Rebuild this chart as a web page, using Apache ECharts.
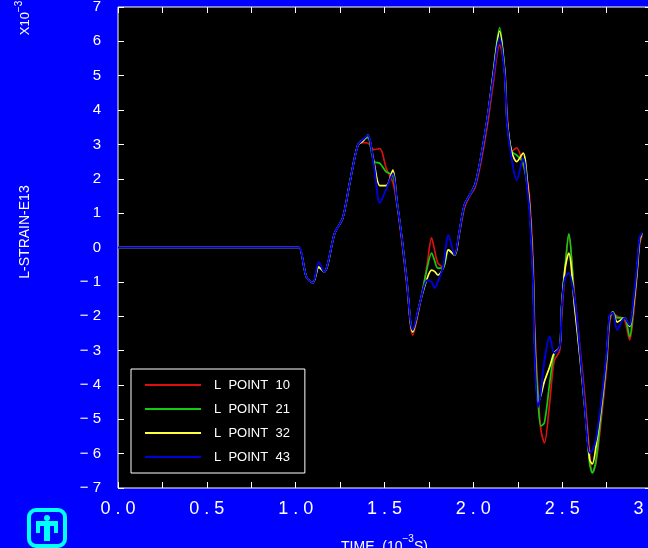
<!DOCTYPE html>
<html><head><meta charset="utf-8">
<script src="https://cdn.jsdelivr.net/npm/echarts@6/dist/echarts.min.js"></script>
<style>html,body{margin:0;padding:0;background:#0000ff;}#c{width:648px;height:548px;}</style>
</head><body><div id="c"></div>
<script>
// time in 10^-3 s
const times = [0, 1.0, 1.02, 1.06, 1.097, 1.13, 1.16, 1.22, 1.265, 1.305,
 1.35, 1.38, 1.406, 1.44, 1.474, 1.51, 1.547, 1.569, 1.597, 1.625,
 1.659, 1.70, 1.74, 1.765, 1.783, 1.80, 1.83, 1.86, 1.895, 1.92,
 1.95, 1.98, 2.01, 2.047, 2.08, 2.11, 2.148, 2.177, 2.19, 2.215,
 2.244, 2.28, 2.306, 2.317, 2.336, 2.345, 2.364, 2.38, 2.40, 2.43,
 2.455, 2.486, 2.497, 2.515, 2.537, 2.57, 2.6, 2.627, 2.655, 2.67,
 2.69, 2.72, 2.75, 2.767, 2.785, 2.81, 2.85, 2.88, 2.9, 2.92,
 2.936, 2.95];
// L-STRAIN-E13 (x 10^-3)
const point10 = [0, 0, 0, -0.85, -1.03, -0.57, -0.71, 0.42, 0.86, 1.9,
 2.98, 3.05, 3.04, 2.85, 2.88, 2.3, 1.9, 1.3, 0.2, -1.05,
 -2.55, -1.65, -0.5, 0.28, -0.1, -0.45, -0.57, -0.07, -0.22, 0.35,
 1.15, 1.5, 1.75, 2.6, 3.6, 4.7, 5.9, 5.2, 3.9, 2.8,
 2.9, 2.4, 1.9, 1.4, -0.3, -2.2, -4.2, -5.3, -5.69, -4.5,
 -3.3, -3.0, -2.0, -0.8, 0.36, -1.4, -2.9, -4.3, -6.0, -6.55,
 -6.3, -5.0, -3.5, -2.2, -1.91, -2.0, -2.1, -2.69, -2.0, -0.9,
 0.1, 0.35];
const point21 = [0, 0, 0, -0.85, -1.03, -0.57, -0.71, 0.42, 0.86, 1.9,
 2.98, 3.15, 3.2, 2.5, 2.45, 2.2, 2.1, 1.38, 0.3, -0.95,
 -2.46, -1.6, -0.6, -0.16, -0.4, -0.6, -0.6, -0.07, -0.22, 0.42,
 1.24, 1.53, 1.85, 2.75, 3.8, 5.0, 6.4, 5.1, 3.7, 2.8,
 2.69, 2.46, 1.7, 1.18, -0.74, -2.6, -4.4, -5.2, -5.1, -3.94,
 -3.1, -2.9, -1.73, -0.65, 0.4, -1.6, -3.1, -4.6, -6.3, -6.56,
 -6.2, -4.8, -3.3, -2.05, -1.88, -2.05, -2.05, -2.6, -1.8, -0.8,
 0.2, 0.42];
const point32 = [0, 0, 0, -0.85, -1.03, -0.57, -0.71, 0.42, 0.86, 1.9,
 2.98, 3.1, 3.27, 2.5, 1.8, 1.8, 2.25, 1.38, 0.3, -0.95,
 -2.46, -1.6, -0.9, -0.66, -0.7, -0.8, -0.6, -0.07, -0.22, 0.42,
 1.24, 1.53, 1.82, 2.75, 3.8, 4.96, 6.3, 5.07, 3.7, 2.8,
 2.5, 2.75, 1.8, 1.18, -0.74, -2.69, -4.53, -4.3, -3.9, -3.47,
 -3.07, -2.9, -1.73, -0.65, -0.16, -1.73, -3.19, -4.64, -6.18, -6.3,
 -5.8, -4.64, -3.19, -2.02, -1.88, -2.17, -2.05, -2.3, -1.73, -0.74,
 0.22, 0.42];
const point43 = [0, 0, 0, -0.85, -1.03, -0.42, -0.71, 0.42, 0.86, 1.9,
 2.98, 3.15, 3.27, 2.4, 1.3, 1.7, 2.15, 1.38, 0.3, -0.95,
 -2.4, -1.6, -0.95, -1.0, -1.18, -1.0, -0.57, 0.36, -0.22, 0.42,
 1.24, 1.53, 1.82, 2.75, 3.8, 4.9, 6.1, 5.0, 3.6, 2.6,
 1.96, 2.6, 1.6, 1.0, -1.0, -3.0, -4.64, -4.2, -3.3, -2.6,
 -3.07, -2.9, -1.8, -0.9, -0.74, -1.5, -3.0, -4.6, -5.98, -5.9,
 -5.6, -4.5, -3.1, -1.97, -1.9, -2.4, -2.05, -2.26, -1.6, -0.6,
 0.3, 0.42];
const seriesNames = ['L  POINT  10', 'L  POINT  21', 'L  POINT  32', 'L  POINT  43'];
const seriesColors = ['#dd1010', '#10cc10', '#ffff40', '#0000d8'];
const seriesValues = [point10, point21, point32, point43];

const chart = echarts.init(document.getElementById('c'));
const tickStyle = {show: true, inside: true, length: 6, lineStyle: {color: '#ffffff', width: 1}};
const option = {
  animation: false,
  backgroundColor: '#0000ff',
  grid: {left: 118, top: 7, width: 533, height: 481, show: true, backgroundColor: '#000000',
         borderColor: '#ffffff', borderWidth: 1, outerBoundsMode: 'none', containLabel: false},
  xAxis: [{
    type: 'value', min: 0, max: 3, interval: 0.25, position: 'bottom',
    axisLine: {show: false, onZero: false}, axisTick: tickStyle, splitLine: {show: false},
    axisLabel: {color: '#ffffff', fontSize: 18, margin: 12, fontFamily: 'Liberation Sans',
      formatter: v => (Math.abs(v * 2 - Math.round(v * 2)) < 1e-6) ? v.toFixed(1).split('').join(' ') : ''},
    name: '{a|TIME  (10}{s|−3}{a|S)}', nameLocation: 'middle', nameGap: 46,
    nameTextStyle: {color: '#ffffff', rich: {
      a: {color: '#ffffff', fontSize: 14, fontFamily: 'Liberation Sans', lineHeight: 20, verticalAlign: 'bottom'},
      s: {color: '#ffffff', fontSize: 10, fontFamily: 'Liberation Sans', lineHeight: 20, verticalAlign: 'top', padding: [0, 0, 6, 0]}}}
  }, {
    type: 'value', min: 0, max: 3, interval: 0.25, position: 'top',
    axisLine: {show: false, onZero: false}, axisTick: tickStyle, splitLine: {show: false}, axisLabel: {show: false}
  }],
  yAxis: [{
    type: 'value', min: -7, max: 7, interval: 1, position: 'left',
    axisLine: {show: false, onZero: false}, axisTick: tickStyle, splitLine: {show: false},
    axisLabel: {color: '#ffffff', fontSize: 15, margin: 17, fontFamily: 'Liberation Sans',
      formatter: v => v < 0 ? '− ' + (-v) : String(v)}
  }, {
    type: 'value', min: -7, max: 7, interval: 1, position: 'right',
    axisLine: {show: false, onZero: false}, axisTick: tickStyle, splitLine: {show: false}, axisLabel: {show: false}
  }],
  legend: {
    orient: 'vertical', left: 131, top: 369, padding: [9, 15, 9, 14], itemGap: 10,
    itemWidth: 56, itemHeight: 2, icon: 'rect',
    backgroundColor: '#000000', borderColor: '#ffffff', borderWidth: 1, borderRadius: 0,
    textStyle: {color: '#ffffff', fontSize: 13, fontFamily: 'Liberation Sans', lineHeight: 14, padding: [0, 0, 0, 8]},
    data: seriesNames
  },
  series: seriesValues.map((vals, i) => ({
    name: seriesNames[i], type: 'line', xAxisIndex: 0, yAxisIndex: 0,
    data: times.map((t, j) => [t, vals[j]]),
    smooth: 0.3, symbol: 'none', showSymbol: false, color: seriesColors[i],
    lineStyle: {color: seriesColors[i], width: i === 3 ? 2 : 1.7}, z: 2 + i
  })),
  graphic: [
    {type: 'text', x: 25, y: 232, rotation: Math.PI / 2, z: 10,
     style: {text: 'L-STRAIN-E13', fill: '#ffffff', font: '14px "Liberation Sans"', align: 'center', verticalAlign: 'middle'}},
    {type: 'text', x: 23, y: 18, rotation: Math.PI / 2, z: 10,
     style: {text: '{a|X10}{s|−3}', align: 'center', verticalAlign: 'middle',
       rich: {a: {fill: '#ffffff', fontSize: 13, fontFamily: 'Liberation Sans', lineHeight: 18, verticalAlign: 'bottom'},
              s: {fill: '#ffffff', fontSize: 10, fontFamily: 'Liberation Sans', lineHeight: 18, verticalAlign: 'top'}}}},
    {type: 'group', x: 27, y: 508, z: 10, children: [
      {type: 'rect', shape: {x: 2, y: 2, width: 36, height: 36, r: 7},
       style: {fill: '#0000ff', stroke: '#00ffff', lineWidth: 4}},
      {type: 'polygon', shape: {points: [[9, 13], [31, 13], [31, 25], [27, 25], [27, 18], [23, 18], [23, 33], [17, 33], [17, 18], [13, 18], [13, 25], [9, 25]]},
       style: {fill: '#00ffff'}},
      {type: 'circle', shape: {cx: 20, cy: 10, r: 3}, style: {fill: '#00ffff'}}
    ]}
  ]
};
chart.setOption(option);
</script></body></html>
